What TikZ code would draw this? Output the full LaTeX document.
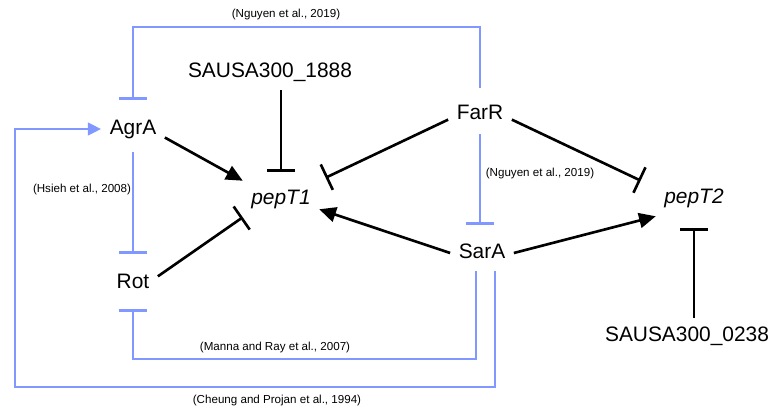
\documentclass[tikz,border=0pt]{standalone}
\usepackage{fontspec}
\setmainfont{Liberation Sans}
\usetikzlibrary{arrows.meta}
\definecolor{linkblue}{RGB}{128,152,255}
\begin{document}
\begin{tikzpicture}[x=0.02cm, y=-0.02cm,
    gene/.style={font=\fontsize{11.9}{14}\selectfont, inner sep=4.7pt, text height=8.6pt, text depth=2.4pt},
    cite/.style={font=\fontsize{6.6}{8}\selectfont, inner sep=0pt},
    act/.style={line width=1.5pt, -{Triangle[length=9.5pt,width=8.5pt]}},
    inh/.style={line width=1.5pt, -{Bar[width=16pt]}},
    bact/.style={line width=1.5pt, linkblue, -{Triangle[length=7.5pt,width=7pt]}},
    binh/.style={line width=1.5pt, linkblue, -{Bar[width=16pt]}}]
    \useasboundingbox (0,0) rectangle (771,409);
    % Genes
    \node[gene] (agra) at (133,129) {AgrA};
    \node[gene] (farr) at (480,114) {FarR};
    \node[gene] (sara) at (482,253) {SarA};
    \node[gene] (rot) at (133,283) {Rot};
    \node[gene] (sausa1888) at (270,72) {SAUSA300\_1888};
    \node[gene] (sausa0238) at (687,336) {SAUSA300\_0238};
    \node[gene] (pept1) at (281,199) {\textit{pepT1}};
    \node[gene] (pept2) at (694,198) {\textit{pepT2}};
    % Corners of the long blue paths
    \coordinate (topleft) at (133,27);
    \coordinate (lowrot) at (133,359);
    \coordinate (lowleft) at (15,387);
    % Literature links in blue
    \draw[binh, shorten <=4.5pt, shorten >=6.2pt] (farr.north) |- (topleft) -- (agra.north);
    \draw[binh, shorten <=2.8pt, shorten >=6.2pt] (agra.south) -- (rot.north);
    \draw[binh, shorten <=1pt, shorten >=5.7pt] (farr.south) -- (farr.south |- sara.north);
    \draw[binh, shorten >=4.5pt] ([xshift=-3.4pt]sara.south) |- (lowrot) -- (rot.south);
    \draw[bact] ([xshift=7.4pt]sara.south) |- (lowleft) |- (agra.west);
    % Regulation of pepT1 and pepT2
    \draw[act] (agra.-15) -- (pept1.north west);
    \draw[inh, shorten >=5pt] (sausa1888.south -| pept1.north) -- (pept1.north);
    \draw[inh, shorten >=4pt] (farr.190) -- (pept1.north east);
    \draw[inh] (rot.15) -- (pept1.south west);
    \draw[act] (sara.west) -- (pept1.-15);
    \draw[act] (sara.east) -- (pept2.south west);
    \draw[inh, shorten >=9.5pt] (farr.-10) -- (pept2.165);
    \draw[inh, shorten >=6.8pt] (sausa0238.north -| pept2.south) -- (pept2.south);
    % References
    \node[cite] (cnguyentop) at (286,15) {(Nguyen et al., 2019)};
    \node[cite] (chsieh) at (82,189) {(Hsieh et al., 2008)};
    \node[cite] (cnguyenmid) at (540,173) {(Nguyen et al., 2019)};
    \node[cite] (cmanna) at (275,347) {(Manna and Ray et al., 2007)};
    \node[cite] (ccheung) at (277,400) {(Cheung and Projan et al., 1994)};
\end{tikzpicture}
\end{document}
